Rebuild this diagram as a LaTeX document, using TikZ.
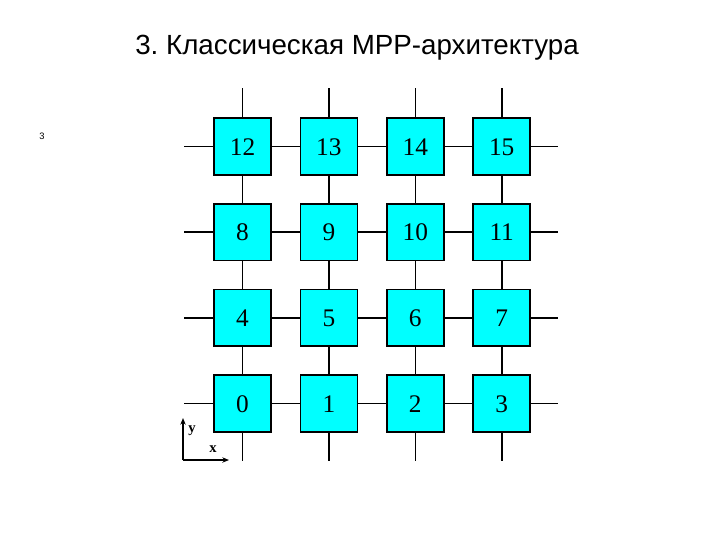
\documentclass[tikz,border=0pt]{standalone}
\usepackage{fontspec}
\setmainfont{Liberation Serif}
\newfontfamily\titlefont{Liberation Sans}
\usetikzlibrary{arrows.meta}
\definecolor{pecyan}{RGB}{0,255,255}
\begin{document}
\frenchspacing
\begin{tikzpicture}[x=0.75pt,y=-0.75pt,
  pe/.style={draw=black,line width=1.3pt,fill=pecyan,minimum width=42.75pt,minimum height=42.5pt,inner sep=0pt,text height=13pt,text depth=0pt,font=\fontsize{19}{19}\selectfont},
  wire/.style={line width=1.2pt,black},
  axis/.style={line width=1pt,-{Stealth[length=5pt,width=4pt]}}]
\useasboundingbox (0,0) rectangle (720,540);
\node[font=\titlefont\fontsize{20.8}{22}\selectfont] (title) at (357,48) {3. Классическая MPP-архитектура};
\node[font=\titlefont\fontsize{7}{8}\selectfont] (pg) at (42,136) {3};
\foreach \r in {0,1,2,3}{
  \foreach \c in {0,1,2,3}{
    \pgfmathtruncatemacro{\n}{\r*4+\c}
    \node[pe] (b\n) at (242.5+86.4*\c, 403.5-85.7*\r) {\n};
  }
}
% horizontal links
\foreach \r in {0,1,2,3}{
  \foreach \c in {0,1,2}{
    \pgfmathtruncatemacro{\a}{\r*4+\c}
    \pgfmathtruncatemacro{\b}{\r*4+\c+1}
    \draw[wire] (b\a.east) -- (b\b.west);
  }
  \pgfmathtruncatemacro{\f}{\r*4}
  \pgfmathtruncatemacro{\l}{\r*4+3}
  \coordinate (L\r) at ([xshift=-21.75pt]b\f.west);
  \coordinate (R\r) at ([xshift=20pt]b\l.east);
  \draw[wire] (L\r) -- (b\f.west);
  \draw[wire] (b\l.east) -- (R\r);
}
% vertical links
\foreach \c in {0,1,2,3}{
  \foreach \r in {0,1,2}{
    \pgfmathtruncatemacro{\a}{\r*4+\c}
    \pgfmathtruncatemacro{\b}{(\r+1)*4+\c}
    \draw[wire] (b\a.north) -- (b\b.south);
  }
  \pgfmathtruncatemacro{\t}{12+\c}
  \coordinate (T\c) at ([yshift=22pt]b\t.north);
  \coordinate (B\c) at ([yshift=-21.5pt]b\c.south);
  \draw[wire] (b\t.north) -- (T\c);
  \draw[wire] (b\c.south) -- (B\c);
}
% axes
\coordinate (o) at (183,460);
\coordinate (ya) at (183,418);
\coordinate (xa) at (229,460);
\draw[axis] (o) -- (ya);
\draw[axis] (o) -- (xa);
\node[font=\bfseries\fontsize{11}{11}\selectfont] (ylab) at (192,431) {y};
\node[font=\bfseries\fontsize{11}{11}\selectfont] (xlab) at (213,449) {x};
\end{tikzpicture}
\end{document}
